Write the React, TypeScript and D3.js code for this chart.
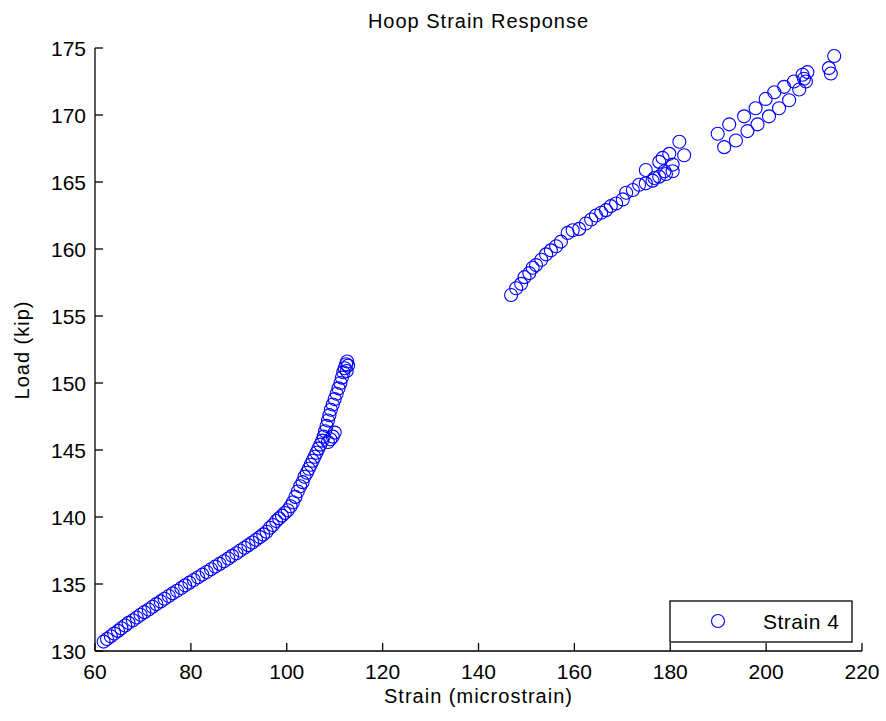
import React from "react";
import * as d3 from "d3";

const strainLow: number[] = [
  61.8, 62.5, 63.3, 64.0, 64.8, 65.5, 66.3, 67.0, 67.9, 68.7, 69.5, 70.3, 71.2, 72.0, 72.8, 73.7,
  74.5, 75.4, 76.2, 77.1, 78.0, 78.8, 79.7, 80.6, 81.5, 82.4, 83.3, 84.2, 85.1, 86.0, 86.9, 87.8,
  88.6, 89.5, 90.3, 91.2, 92.0, 92.8, 93.6, 94.4, 95.1, 95.8, 96.5, 97.1, 97.8, 98.4, 99.0, 99.6,
  100.2, 100.8, 101.3, 101.8, 102.3, 102.8, 103.3, 103.7, 104.2, 104.6, 105.0, 105.4, 105.8, 106.2,
  106.6, 107.0, 107.4, 107.7, 108.0, 108.6, 109.1, 109.6, 110.0, 108.3, 108.6, 108.9, 109.2, 109.6,
  110.0, 110.4, 110.8, 111.2, 111.5, 111.8, 112.1, 112.4, 112.6, 112.8, 112.5,
];
const loadLow: number[] = [
  130.7, 130.9, 131.1, 131.3, 131.5, 131.7, 131.9, 132.1, 132.3, 132.5, 132.7, 132.9, 133.1, 133.3, 133.5, 133.7,
  133.9, 134.1, 134.3, 134.5, 134.7, 134.9, 135.1, 135.3, 135.5, 135.7, 135.9, 136.1, 136.3, 136.5, 136.7, 136.9,
  137.1, 137.3, 137.5, 137.7, 137.9, 138.1, 138.3, 138.5, 138.7, 138.9, 139.2, 139.4, 139.7, 139.9, 140.1, 140.3,
  140.5, 140.8, 141.1, 141.5, 141.9, 142.3, 142.6, 143.0, 143.3, 143.6, 143.9, 144.2, 144.5, 144.8,
  145.1, 145.4, 145.7, 146.0, 146.4, 145.6, 145.8, 146.0, 146.3, 146.8, 147.2, 147.6, 148.0, 148.4,
  148.8, 149.2, 149.6, 150.0, 150.4, 150.8, 151.1, 151.4, 151.6, 151.3, 150.9,
];
const strainHigh: number[] = [
  146.8, 147.85, 148.9, 149.6, 150.6, 151.3, 152.0, 153.1, 154.1, 155.1, 156.2, 157.2, 158.6, 159.65,
  161.0, 162.4, 163.5, 164.5, 165.6, 166.6, 167.6, 168.7, 170.1, 170.8, 172.2, 173.5, 174.9, 176.3,
  177.7, 179.1, 180.5, 174.9, 176.7, 177.7, 178.8, 179.8, 180.5, 181.9, 182.9, 178.4,
  189.9, 191.25, 192.3, 193.7, 195.4, 196.1, 197.8, 198.2, 199.9, 200.6, 201.7, 202.7, 203.75, 204.8,
  205.8, 206.9, 207.9, 208.6, 208.3, 207.6, 214.2, 213.1, 213.5,
];
const loadHigh: number[] = [
  156.57, 157.07, 157.4, 157.9, 158.2, 158.6, 158.8, 159.2, 159.6, 159.9, 160.2, 160.55, 161.2, 161.4,
  161.5, 161.9, 162.2, 162.5, 162.7, 162.9, 163.2, 163.4, 163.7, 164.2, 164.4, 164.8, 164.9, 165.1,
  165.4, 165.6, 165.8, 165.9, 165.3, 166.5, 165.8, 167.1, 166.3, 168.0, 167.0, 166.8,
  168.6, 167.6, 169.3, 168.1, 169.9, 168.8, 170.5, 169.3, 171.2, 169.9, 171.7, 170.5, 172.1, 171.1,
  172.5, 171.9, 172.7, 173.2, 172.5, 173.0, 174.4, 173.5, 173.1,
];
const xTicks: number[] = [60, 80, 100, 120, 140, 160, 180, 200, 220];
const yTicks: number[] = [130, 135, 140, 145, 150, 155, 160, 165, 170, 175];
const titleText = "Hoop Strain Response";
const xLabelText = "Strain (microstrain)";
const yLabelText = "Load (kip)";
const legendText = "Strain 4";

export default function App() {
  const W = 886, H = 721;
  const left = 95, right = 862, top = 48, bottom = 651;
  const x = d3.scaleLinear().domain([60, 220]).range([left, right]);
  const y = d3.scaleLinear().domain([130, 175]).range([bottom, top]);
  const pts = [
    ...strainLow.map((s, i) => [s, loadLow[i]]),
    ...strainHigh.map((s, i) => [s, loadHigh[i]]),
  ];
  const font = "'Liberation Sans', Arial, sans-serif";
  const blue = "#0000ff";
  const tickLen = 8;
  return (
    <svg width={W} height={H} style={{ position: "absolute", left: 0, top: 0, background: "#fff" }}>
      <rect x={0} y={0} width={W} height={H} fill="#fff" />
      <g>
        {pts.map((p, i) => (
          <circle key={i} cx={x(p[0])} cy={y(p[1])} r={6.5} fill="none" stroke={blue} strokeWidth={1.1} />
        ))}
      </g>
      <line x1={left} x2={right} y1={bottom} y2={bottom} stroke="#000" strokeWidth={1.3} />
      <line x1={left} x2={left} y1={top} y2={bottom} stroke="#000" strokeWidth={1.3} />
      {xTicks.map((t) => (
        <g key={"x" + t}>
          <line x1={x(t)} x2={x(t)} y1={bottom} y2={bottom - tickLen} stroke="#000" strokeWidth={1.3} />
          <text x={x(t)} y={679} textAnchor="middle" fontFamily={font} fontSize={21} fill="#000">{t}</text>
        </g>
      ))}
      {yTicks.map((t) => (
        <g key={"y" + t}>
          <line x1={left} x2={left + tickLen} y1={y(t)} y2={y(t)} stroke="#000" strokeWidth={1.3} />
          <text x={86} y={y(t)} dy="0.36em" textAnchor="end" fontFamily={font} fontSize={21} fill="#000">{t}</text>
        </g>
      ))}
      <text x={(left + right) / 2} y={28} textAnchor="middle" fontFamily={font} fontSize={20} letterSpacing={1} fill="#000">{titleText}</text>
      <text x={(left + right) / 2} y={703} textAnchor="middle" fontFamily={font} fontSize={20} letterSpacing={1} fill="#000">{xLabelText}</text>
      <text transform={`translate(29,350) rotate(-90)`} textAnchor="middle" fontFamily={font} fontSize={20} letterSpacing={1} fill="#000">{yLabelText}</text>
      <g>
        <rect x={670} y={601} width={182} height={41} fill="#fff" stroke="#000" strokeWidth={1.3} />
        <circle cx={718} cy={621} r={6.5} fill="none" stroke={blue} strokeWidth={1.1} />
        <text x={763} y={629} fontFamily={font} fontSize={21} letterSpacing={0.5} fill="#000">{legendText}</text>
      </g>
    </svg>
  );
}
